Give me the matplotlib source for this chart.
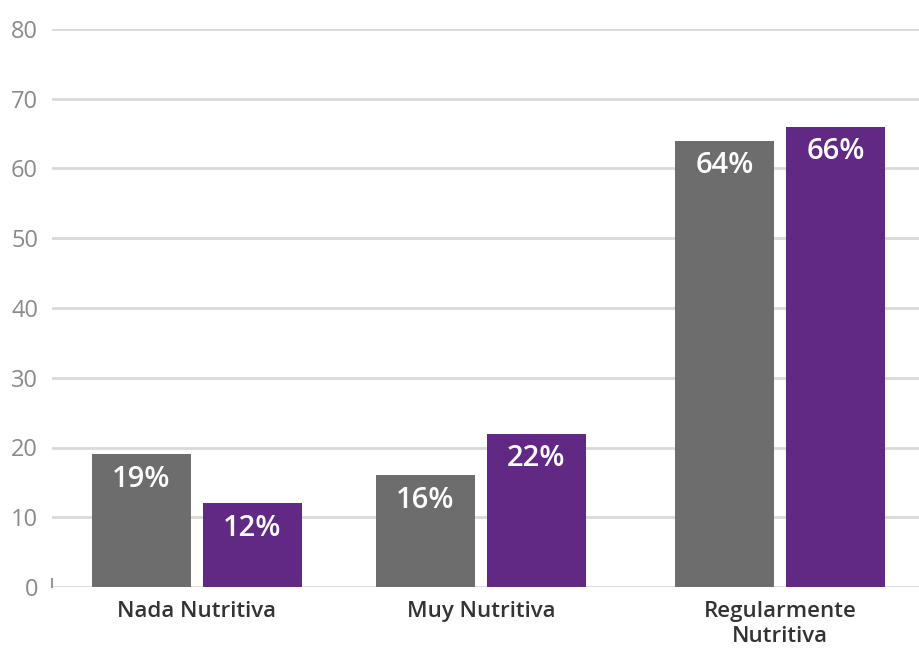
import numpy as np
import matplotlib.pyplot as plt

categories = ['Nada Nutritiva', 'Muy Nutritiva', 'Regularmente\nNutritiva']
serie_gris = [19, 16, 64]
serie_morada = [12, 22, 66]
yticks = [0, 10, 20, 30, 40, 50, 60, 70, 80]

plt.rcParams['font.family'] = ['Open Sans', 'DejaVu Sans']

fig = plt.figure(figsize=(9.19, 6.5), dpi=100)
ax = fig.add_axes([52 / 919, 1 - 587 / 650, 867 / 919, 558 / 650])

x = np.array([0, 1, 2.053])
w = 0.349
off = 0.195

b1 = ax.bar(x - off, serie_gris, w, color='#6d6d6d', zorder=3)
b2 = ax.bar(x + off, serie_morada, w, color='#612884', zorder=3)

for bars, vals in ((b1, serie_gris), (b2, serie_morada)):
    for r, v in zip(bars, vals):
        ax.annotate(f'{v}%', (r.get_x() + r.get_width() / 2, v),
                    xytext=(0, -18), textcoords='offset points',
                    ha='center', va='center', color='white',
                    fontsize=21, fontweight='semibold', zorder=4)

ax.set_xlim(-0.51, 2.542)
ax.set_ylim(0, 80)
ax.set_yticks(yticks)
ax.set_yticklabels([str(t) for t in yticks])
ax.yaxis.grid(True, color='#d9d9d9', linewidth=2)
ax.set_axisbelow(True)
ax.tick_params(axis='y', length=0, labelsize=17, labelcolor='#8a8a8a', pad=10)
ax.set_xticks(x)
ax.set_xticklabels(categories)
ax.tick_params(axis='x', length=0, labelsize=16, labelcolor='#333333', pad=10)
for lab in ax.get_xticklabels():
    lab.set_fontweight('semibold')
    lab.set_linespacing(1.25)

for s in ('top', 'right', 'bottom'):
    ax.spines[s].set_visible(False)
ax.spines['left'].set_bounds(0, 1.2)
ax.spines['left'].set_color('#9a9a9a')
ax.spines['left'].set_linewidth(1.5)

fig.savefig('out.png', dpi=100)
